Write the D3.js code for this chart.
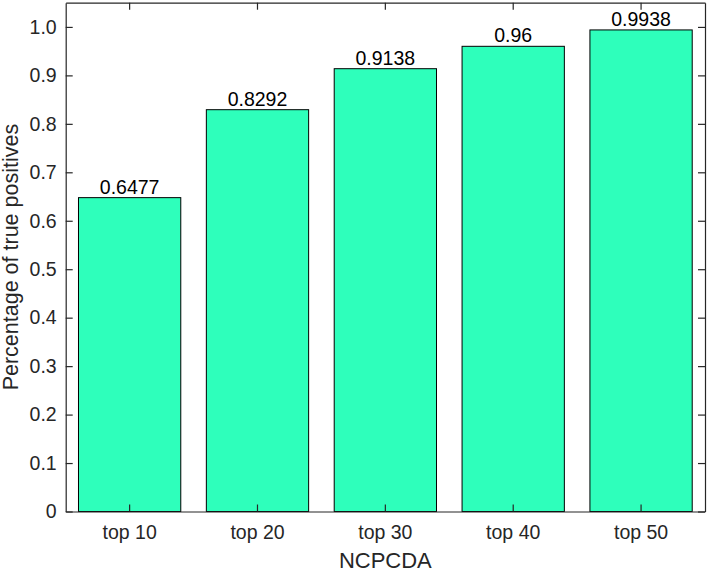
<!DOCTYPE html>
<html><head><meta charset="utf-8">
<script src="https://cdn.jsdelivr.net/npm/d3@7"></script>
<style>body{margin:0;background:#fff}svg{display:block}text{font-family:"Liberation Sans",Arial,sans-serif}</style>
</head><body><svg id="c" width="713" height="573"></svg>
<script>
const categories = ["top 10","top 20","top 30","top 40","top 50"];
const values = [0.6477, 0.8292, 0.9138, 0.96, 0.9938];
const valueLabels = ["0.6477","0.8292","0.9138","0.96","0.9938"];
const yTicks = [0,0.1,0.2,0.3,0.4,0.5,0.6,0.7,0.8,0.9,1.0];
const yTickLabels = ["0","0.1","0.2","0.3","0.4","0.5","0.6","0.7","0.8","0.9","1.0"];
const xTitle = "NCPCDA";
const yTitle = "Percentage of true positives";

const L=65.7, R=705, T=2.7, B=511.5;
const svg=d3.select("#c");
const x=d3.scaleBand().domain(categories).range([L,R]).paddingInner(0.2).paddingOuter(0.1);
const y=d3.scaleLinear().domain([0,1.05]).range([B,T]);
const axisColor="#262626";

svg.append("g").selectAll("rect").data(values).join("rect")
 .attr("x",(d,i)=>x(categories[i])).attr("width",x.bandwidth())
 .attr("y",d=>y(d)).attr("height",d=>B-y(d))
 .attr("fill","#2effbb").attr("stroke","#000").attr("stroke-width",1);

svg.append("g").selectAll("text").data(values).join("text")
 .attr("x",(d,i)=>x(categories[i])+x.bandwidth()/2).attr("y",d=>y(d)-4)
 .attr("text-anchor","middle").attr("font-size",19.5).attr("fill","#000")
 .text((d,i)=>valueLabels[i]);

const yl=svg.append("g").attr("transform",`translate(${L},0)`)
 .call(d3.axisLeft(y).tickValues(yTicks).tickFormat((d,i)=>yTickLabels[i]).tickSizeInner(-7).tickSizeOuter(0).tickPadding(9));
const yr=svg.append("g").attr("transform",`translate(${R},0)`)
 .call(d3.axisRight(y).tickValues(yTicks).tickFormat("").tickSizeInner(-7).tickSizeOuter(0));
const xb=svg.append("g").attr("transform",`translate(0,${B})`)
 .call(d3.axisBottom(x).tickSizeInner(-7).tickSizeOuter(0).tickPadding(14));
const xt=svg.append("g").attr("transform",`translate(0,${T})`)
 .call(d3.axisTop(x).tickFormat("").tickSizeInner(-7).tickSizeOuter(0));
[yl,yr,xb,xt].forEach(g=>{
 g.selectAll("path,line").attr("stroke",axisColor).attr("stroke-width",1.2);
 g.selectAll("text").attr("font-size",19.5).attr("fill",axisColor).style("font-family",'"Liberation Sans",Arial,sans-serif');
});
xb.selectAll("text").attr("dy","0.71em");

svg.append("text").attr("x",(L+R)/2).attr("y",568).attr("text-anchor","middle")
 .attr("font-size",22).attr("fill",axisColor).text(xTitle);
svg.append("text").attr("transform",`translate(18,${(T+B)/2}) rotate(-90)`).attr("text-anchor","middle")
 .attr("font-size",21.5).attr("fill",axisColor).text(yTitle);
</script></body></html>
